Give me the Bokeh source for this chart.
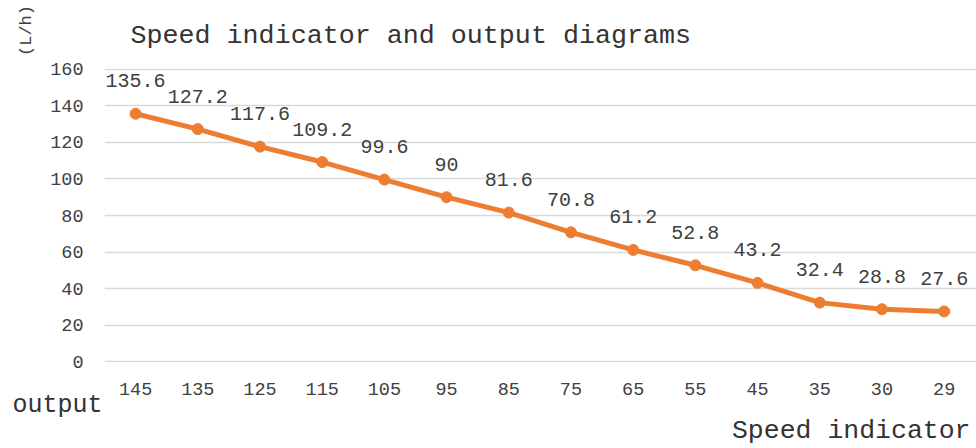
from bokeh.plotting import figure
from bokeh.models import Range1d, FixedTicker, Label, ColumnDataSource
from bokeh.core.properties import value
from bokeh.embed import file_html
from bokeh.resources import INLINE
import math

categories = ["145", "135", "125", "115", "105", "95", "85", "75", "65", "55", "45", "35", "30", "29"]
output_lph = [135.6, 127.2, 117.6, 109.2, 99.6, 90, 81.6, 70.8, 61.2, 52.8, 43.2, 32.4, 28.8, 27.6]
y_ticks = [0, 20, 40, 60, 80, 100, 120, 140, 160]

FONT = "Liberation Mono"
ORANGE = "#ED7D31"

xs = list(range(len(categories)))
src = ColumnDataSource(dict(x=xs, y=output_lph, lbl=[f"{v:g}" for v in output_lph]))

p = figure(width=976, height=448, output_backend="svg", toolbar_location=None,
           x_range=Range1d(-0.5, 13.52), y_range=Range1d(-0.3, 160.3),
           min_border_left=104, min_border_right=0, min_border_top=68, min_border_bottom=86)
p.outline_line_color = None
p.background_fill_color = "white"
p.border_fill_color = "white"

p.xaxis.ticker = FixedTicker(ticks=xs)
p.xaxis.major_label_overrides = {i: c for i, c in enumerate(categories)}
p.yaxis.ticker = FixedTicker(ticks=y_ticks)
for ax in (p.xaxis, p.yaxis):
    ax.axis_line_color = None
    ax.major_tick_line_color = None
    ax.minor_tick_line_color = None
    ax.major_label_text_font = FONT
    ax.major_label_text_font_size = "18.5px"
    ax.major_label_text_color = "#404040"
p.xaxis.major_label_standoff = 14
p.yaxis.major_label_standoff = 15
p.xgrid.grid_line_color = None
p.ygrid.grid_line_color = "#D9D9D9"
p.ygrid.grid_line_width = 1.5

p.line("x", "y", source=src, line_color=ORANGE, line_width=5)
p.scatter("x", "y", source=src, size=11, fill_color=ORANGE, line_color=ORANGE)
p.text("x", "y", text="lbl", source=src, y_offset=-33, text_align="center",
       text_baseline="middle", text_font=value(FONT), text_font_size="20px",
       text_color="#404040")

# free texts placed in side panels (canvas units) so they are not clipped to the frame
p.add_layout(Label(x=130, y=35, x_units="canvas", y_units="canvas",
                   text="Speed indicator and output diagrams",
                   text_font=FONT, text_font_size="26.7px", text_color="#333333",
                   text_align="left", text_baseline="middle"), "above")
p.add_layout(Label(x=970, y=430, x_units="canvas", y_units="canvas", text="Speed indicator",
                   text_font=FONT, text_font_size="26.5px", text_color="#333333",
                   text_align="right", text_baseline="middle"), "above")
p.add_layout(Label(x=12, y=405, x_units="canvas", y_units="canvas", text="output",
                   text_font=FONT, text_font_size="25px", text_color="#333333",
                   text_align="left", text_baseline="middle"), "below")
p.add_layout(Label(x=26, y=30, x_units="canvas", y_units="canvas", text="(L/h)", angle=math.pi / 2,
                   text_font=FONT, text_font_size="17px", text_color="#404040",
                   text_align="center", text_baseline="middle"), "left")

open("out.html", "w").write(file_html(p, INLINE))
